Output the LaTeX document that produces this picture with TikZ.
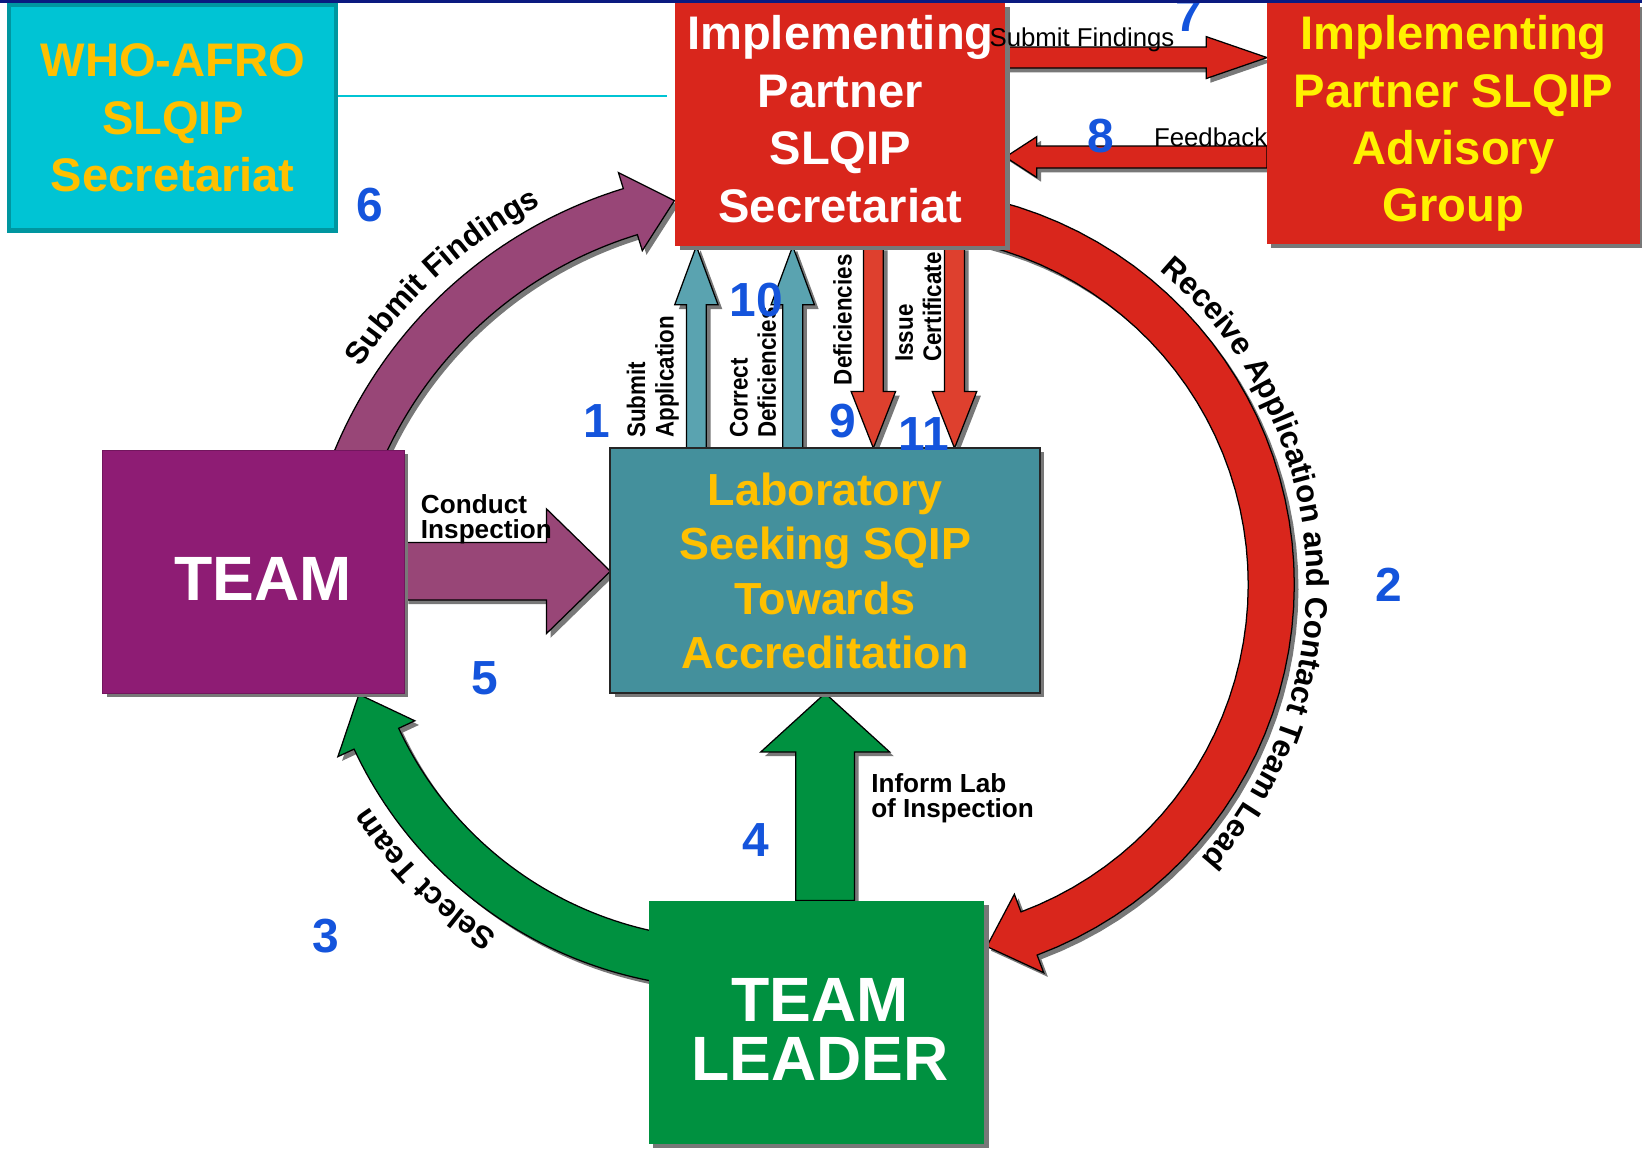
\documentclass[tikz,border=0pt]{standalone}
\usepackage{fontspec}
\setmainfont{Liberation Sans}
\newfontfamily\narrowsans[FakeStretch=0.88]{Liberation Sans}
\usepackage{xcolor}
\usetikzlibrary{shapes,arrows,positioning,calc,shadows,decorations.text}

\definecolor{navy}{RGB}{10,26,128}
\definecolor{whocyan}{RGB}{0,196,212}
\definecolor{whoedge}{RGB}{0,150,160}
\definecolor{gold}{RGB}{255,192,0}
\definecolor{ipred}{RGB}{217,38,28}
\definecolor{lightred}{RGB}{222,64,46}
\definecolor{labteal}{RGB}{68,144,156}
\definecolor{upteal}{RGB}{90,163,176}
\definecolor{teampurple}{RGB}{142,28,116}
\definecolor{mauve}{RGB}{152,70,119}
\definecolor{leadgreen}{RGB}{0,145,64}
\definecolor{stepblue}{RGB}{20,84,220}
\definecolor{shadowgray}{RGB}{120,120,120}

\pgfdeclarelayer{arrows}
\pgfsetlayers{arrows,main}

\newcommand{\arcfont}{\bfseries\fontsize{8.5}{10}\selectfont}

% straight block arrow: colour, from, to, shaft half width, head half width, head length
\newcommand{\blockarrow}[6]{%
  \coordinate (ba-h) at ($(#3)!#6!(#2)$);
  \filldraw[fill=#1,draw=black,line width=0.012cm,shadowed]
    ($(#2)!#4!90:(#3)$) -- ($(ba-h)!#4!90:(#3)$) -- ($(ba-h)!#5!90:(#3)$) -- (#3)
    -- ($(ba-h)!#5!-90:(#3)$) -- ($(ba-h)!#4!-90:(#3)$) -- ($(#2)!#4!-90:(#3)$) -- cycle;
}
% curved block arrow: colour, cx, cy, mid radius, half width, start angle, head angle, tip angle, head half width
\newcommand{\arcarrow}[9]{%
  \filldraw[fill=#1,draw=black,line width=0.012cm,shadowed]
    plot[domain=#6:#7,samples=50,variable=\t] ({#2+(#4+#5)*cos(\t)},{#3+(#4+#5)*sin(\t)})
    -- ({#2+(#4+#9)*cos(#7)},{#3+(#4+#9)*sin(#7)})
    -- ({#2+#4*cos(#8)},{#3+#4*sin(#8)})
    -- ({#2+(#4-#9)*cos(#7)},{#3+(#4-#9)*sin(#7)})
    -- plot[domain=#7:#6,samples=50,variable=\t] ({#2+(#4-#5)*cos(\t)},{#3+(#4-#5)*sin(\t)})
    -- cycle;
}

\begin{document}
\begin{tikzpicture}[x=0.01cm,y=-0.01cm,every node/.style={inner sep=0pt,outer sep=0pt}]
\tikzstyle{shadowed}=[drop shadow={shadow xshift=0.04cm,shadow yshift=-0.04cm,fill=shadowgray,opacity=1}]
\tikzstyle{boxtext}=[align=center,font=\bfseries\fontsize{12.8}{15.6}\selectfont]
\tikzstyle{bigtext}=[align=center,text=white,font=\bfseries\fontsize{17}{16.2}\selectfont]
\tikzstyle{steplabel}=[anchor=base,text=stepblue,font=\bfseries\fontsize{13}{13}\selectfont]
\tikzstyle{flowlabel}=[align=left,anchor=north west,font=\bfseries\fontsize{7.1}{6.8}\selectfont]
\tikzstyle{thinlabel}=[anchor=base west,font=\fontsize{7}{8}\selectfont]
\tikzstyle{sidelabel}=[align=left,anchor=north west,rotate=90,font=\narrowsans\bfseries\fontsize{6.9}{7.7}\selectfont]
\useasboundingbox (0,0) rectangle (1568,1098);

% boxes
\node[draw=whoedge,line width=0.04cm,fill=whocyan,minimum width=3.12cm,minimum height=2.15cm,boxtext,text=gold] (who) at (165,112.5) {WHO-AFRO\\SLQIP\\Secretariat};
\node[fill=ipred,minimum width=3.15cm,minimum height=2.32cm,boxtext,text=white,text depth=0.11cm,shadowed] (ips) at (802.5,119) {Implementing\\Partner\\SLQIP\\Secretariat};
\node[fill=ipred,minimum width=3.56cm,minimum height=2.30cm,boxtext,text=yellow,shadowed] (adv) at (1388,118) {Implementing\\Partner SLQIP\\Advisory\\Group};
\node[draw=black!85,line width=0.02cm,fill=labteal,minimum width=4.10cm,minimum height=2.34cm,text=gold,align=center,font=\bfseries\fontsize{12.2}{14.8}\selectfont,shadowed] (lab) at (788,545) {Laboratory\\Seeking SQIP\\Towards\\Accreditation};
\node[fill=teampurple,draw=teampurple!80!black,line width=0.01cm,minimum width=2.88cm,minimum height=2.32cm,shadowed] (team) at (242,546) {};
\node[bigtext] (teamT) at (251,553) {TEAM};
\node[fill=leadgreen,minimum width=3.20cm,minimum height=2.32cm,shadowed] (tl) at (780,976) {};
\node[bigtext] (tlT) at (783,983) {TEAM\\LEADER};

\begin{pgfonlayer}{arrows}
% curved arrows
\arcarrow{ipred}{858}{558}{356}{22}{-85}{69.5}{76.3}{40}
\arcarrow{leadgreen}{697}{548}{372.5}{23.5}{95}{155}{162}{40.5}
\arcarrow{mauve}{723}{598}{414}{23}{198}{253}{259}{39}
% straight arrows
\coordinate (sf7a) at (ips.east |- 0,55);
\coordinate (sf7b) at (adv.west |- 0,55);
\blockarrow{ipred}{sf7a}{sf7b}{0.10cm}{0.20cm}{0.58cm}
\coordinate (fb8a) at (adv.west |- 0,150);
\coordinate (fb8b) at (ips.east |- 0,150);
\blockarrow{ipred}{fb8a}{fb8b}{0.105cm}{0.195cm}{0.30cm}
\coordinate (ci5a) at (team.east |- 0,545.5);
\coordinate (ci5b) at (lab.west |- 0,545.5);
\blockarrow{mauve}{ci5a}{ci5b}{0.275cm}{0.595cm}{0.61cm}
\coordinate (sa1a) at (lab.north -| 665,0);
\coordinate (sa1b) at (ips.south -| 665,0);
\blockarrow{upteal}{sa1a}{sa1b}{0.095cm}{0.207cm}{0.56cm}
\coordinate (cd10a) at (lab.north -| 757,0);
\coordinate (cd10b) at (ips.south -| 757,0);
\blockarrow{upteal}{cd10a}{cd10b}{0.095cm}{0.207cm}{0.56cm}
\coordinate (df9a) at (ips.south -| 834,0);
\coordinate (df9b) at (lab.north -| 834,0);
\blockarrow{lightred}{df9a}{df9b}{0.095cm}{0.212cm}{0.54cm}
\coordinate (ic11a) at (ips.south -| 911.5,0);
\coordinate (ic11b) at (lab.north -| 911.5,0);
\blockarrow{lightred}{ic11a}{ic11b}{0.095cm}{0.212cm}{0.54cm}
\coordinate (il4a) at (tl.north -| 788,0);
\coordinate (il4b) at (lab.south -| 788,0);
\blockarrow{leadgreen}{il4a}{il4b}{0.28cm}{0.615cm}{0.56cm}
% cyan link
\coordinate (cyanEnd) at (637,92);
\draw[whocyan,line width=0.02cm] (who.east |- 0,92) -- (cyanEnd);
\end{pgfonlayer}

% labels on the arrows
\node[thinlabel] (sf7l) at (945,44) {Submit Findings};
\node[thinlabel] (fb8l) at (1102,140) {Feedback};
\node[flowlabel] (ci5l) at (402,472) {Conduct\\Inspection};
\node[flowlabel] (il4l) at (832,739) {Inform Lab\\of Inspection};
\node[sidelabel] (sa1l) at (598.5,418) {Submit\\Application};
\node[sidelabel] (cd10l) at (697,418) {Correct\\Deficiencies};
\node[sidelabel] (df9l) at (795.7,367.7) {Deficiencies};
\node[sidelabel] (ic11l) at (855,345.4) {Issue\\Certificate};
\path[decorate,decoration={text along path,text align=center,text={|\arcfont|Receive Application and Contact Team Lead}}]
  plot[domain=-75:67,samples=90,variable=\t] ({858+390*cos(\t)},{558+390*sin(\t)});
\path[decorate,decoration={text along path,text align=center,text={|\arcfont|Select Team}}]
  plot[domain=110:160,samples=40,variable=\t] ({697+410*cos(\t)},{548+410*sin(\t)});
\path[decorate,decoration={text along path,text align=center,text={|\arcfont|Submit Findings}}]
  plot[domain=200:256,samples=40,variable=\t] ({723+452*cos(\t)},{598+452*sin(\t)});

% step numbers
\node[steplabel] (n1) at (570,418) {1};
\node[steplabel] (n2) at (1326,574) {2};
\node[steplabel] (n3) at (311,910) {3};
\node[steplabel] (n4) at (722,818) {4};
\node[steplabel] (n5) at (463,663) {5};
\node[steplabel] (n6) at (353,211.5) {6};
\node[steplabel] (n7) at (1135,30) {7};
\node[steplabel] (n8) at (1051,146) {8};
\node[steplabel] (n9) at (804.5,418) {9};
\node[steplabel] (n10) at (722,302) {10};
\node[steplabel] (n11) at (882.5,430) {11};

\fill[navy] (0,0) rectangle (1568,3);
\end{tikzpicture}
\end{document}
